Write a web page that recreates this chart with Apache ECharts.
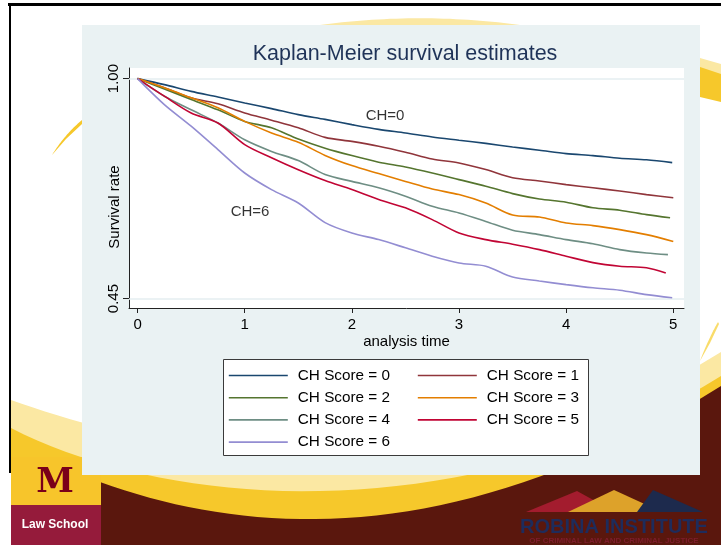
<!DOCTYPE html>
<html>
<head>
<meta charset="utf-8">
<title>Kaplan-Meier survival estimates</title>
<script src="https://cdn.jsdelivr.net/npm/echarts@6/dist/echarts.min.js"></script>
<style>
	html, body { margin: 0; padding: 0; background: #fff; }
	#chart { width: 721px; height: 545px; }
</style>
</head>
<body>
<div id="chart"></div>
<script type="text/javascript">
	var times = [0, 0.25, 0.5, 0.75, 1, 1.25, 1.5, 1.75, 2, 2.25, 2.5, 2.75, 3, 3.25, 3.5, 3.75, 4, 4.25, 4.5, 4.75, 5];
	// where each curve stops (a few stop just short of 5)
	var endTimes = [4.99, 5.0, 4.97, 5.0, 4.95, 4.93, 4.99];

	var ch0 = [1, 0.985, 0.968, 0.954, 0.939, 0.925, 0.910, 0.898, 0.885, 0.873, 0.864, 0.854, 0.846, 0.838, 0.829, 0.821, 0.8125, 0.8075, 0.801, 0.797, 0.790];
	var ch1 = [1, 0.977, 0.952, 0.937, 0.914, 0.896, 0.877, 0.853, 0.843, 0.831, 0.816, 0.799, 0.789, 0.7725, 0.752, 0.744, 0.735, 0.727, 0.719, 0.710, 0.702];
	var ch2 = [1, 0.974, 0.948, 0.922, 0.893, 0.877, 0.849, 0.826, 0.8075, 0.791, 0.779, 0.764, 0.7475, 0.731, 0.7125, 0.699, 0.691, 0.677, 0.671, 0.660, 0.652];
	var ch3 = [1, 0.977, 0.952, 0.927, 0.893, 0.864, 0.841, 0.808, 0.7825, 0.7625, 0.743, 0.724, 0.710, 0.689, 0.659, 0.654, 0.639, 0.6325, 0.6225, 0.610, 0.593];
	var ch4 = [1, 0.956, 0.922, 0.889, 0.847, 0.818, 0.795, 0.760, 0.743, 0.727, 0.706, 0.681, 0.664, 0.643, 0.621, 0.610, 0.5975, 0.587, 0.5725, 0.564, 0.560];
	var ch5 = [1, 0.956, 0.914, 0.889, 0.835, 0.802, 0.772, 0.745, 0.7225, 0.6975, 0.677, 0.6475, 0.614, 0.5975, 0.586, 0.5725, 0.556, 0.540, 0.531, 0.527, 0.514];
	var ch6 = [1, 0.935, 0.881, 0.8225, 0.764, 0.7225, 0.689, 0.640, 0.614, 0.5975, 0.577, 0.556, 0.539, 0.531, 0.504, 0.494, 0.485, 0.477, 0.471, 0.460, 0.452];

	var names = ['CH Score = 0', 'CH Score = 1', 'CH Score = 2', 'CH Score = 3', 'CH Score = 4', 'CH Score = 5', 'CH Score = 6'];
	var colors = ['#1a476f', '#90353b', '#55752f', '#e37e00', '#6e8e84', '#c10534', '#938dd2'];
	var xTicks = [0, 1, 2, 3, 4, 5];
	var yTicks = [0.45, 1.00];
	// text notes inside the plot: [time, survival, text]
	var notes = [[2.31, 0.908, 'CH=0'], [1.05, 0.668, 'CH=6']];

	var font = 'Liberation Sans, Arial, sans-serif';
	var curves = [ch0, ch1, ch2, ch3, ch4, ch5, ch6];

	var series = curves.map(function (vals, k) {
		return {
			name: names[k],
			type: 'line',
			symbol: 'none',
			color: colors[k],
			smooth: 0.3,
			lineStyle: { width: 1.6 },
			z: 3,
			data: vals.map(function (v, i) {
				return [i === vals.length - 1 ? endTimes[k] : times[i], v];
			})
		};
	});
	// light grid lines at the y ticks
	series[0].markLine = {
		silent: true,
		symbol: 'none',
		label: { show: false },
		lineStyle: { color: '#e4eef1', width: 1.5, type: 'solid' },
		z: 1,
		data: yTicks.map(function (v) { return { yAxis: v }; })
	};
	series.push({
		name: 'notes',
		type: 'scatter',
		symbolSize: 0,
		silent: true,
		data: notes,
		label: {
			show: true,
			position: 'inside',
			formatter: function (p) { return p.data[2]; },
			color: '#000',
			fontSize: 15,
			fontFamily: font
		}
	});

	// slide background shapes: cubic curve from a to d, then closed along the bottom
	function swoosh(a, b, c, d, tail) {
		var pts = [];
		for (var i = 0; i <= 40; i++) {
			var s = i / 40, u = 1 - s;
			pts.push([
				u * u * u * a[0] + 3 * u * u * s * b[0] + 3 * u * s * s * c[0] + s * s * s * d[0],
				u * u * u * a[1] + 3 * u * u * s * b[1] + 3 * u * s * s * c[1] + s * s * s * d[1]
			]);
		}
		return pts.concat(tail);
	}
	function poly(points, fill, z) {
		return { type: 'polygon', z: z, silent: true, shape: { points: points }, style: { fill: fill } };
	}

	var legendCommon = {
		orient: 'vertical',
		top: 368,
		padding: 0,
		itemWidth: 59,
		itemHeight: 14,
		itemGap: 7.2,
		z: 5,
		itemStyle: { opacity: 0 },
		lineStyle: { width: 1.6 },
		textStyle: { fontSize: 15.3, lineHeight: 14, color: '#000', fontFamily: font, padding: [0, 0, 0, 5] }
	};

	var chart = echarts.init(document.getElementById('chart'));
	var option = {
		animation: false,
		backgroundColor: '#fff',
		textStyle: { fontFamily: font },
		title: {
			text: 'Kaplan-Meier survival estimates',
			left: 400,
			textAlign: 'center',
			top: 38,
			textStyle: { color: '#1f3358', fontSize: 21.5, fontWeight: 'normal', fontFamily: font }
		},
		graphic: [
			// slide decoration
			poly(swoosh([11, 400], [150, 450], [450, 520], [721, 352], [[721, 545], [11, 545]]), '#fbe8a3', -10),
			poly(swoosh([11, 428], [180, 515], [480, 525], [721, 376], [[721, 545], [11, 545]]), '#f6c82b', -10),
			poly(swoosh([100, 482], [260, 540], [470, 545], [721, 386], [[721, 545], [100, 545]]), '#5a170d', -10),
			poly(swoosh([300, 28], [380, 15], [460, 15], [540, 28], []), '#fbe8a3', -10),
			poly([[700, 58], [721, 64], [721, 76], [700, 68]], '#fbe8a3', -10),
			poly([[700, 67], [721, 74], [721, 102], [700, 97]], '#f6c82b', -10),
			poly(swoosh([52, 155], [60, 142], [70, 130], [82, 120], [[82, 124], [66, 139]]), '#f6c82b', -10),
			poly(swoosh([700, 361], [705, 348], [711, 334], [718, 322], [[719, 324], [710, 343]]), '#f9dc6a', -10),
			{ type: 'rect', z: -9, silent: true, shape: { x: 8, y: 3, width: 713, height: 3 }, style: { fill: '#000' } },
			{ type: 'rect', z: -9, silent: true, shape: { x: 9, y: 3, width: 2, height: 470 }, style: { fill: '#000' } },
			// law school logo
			{ type: 'rect', z: -8, silent: true, shape: { x: 11, y: 457, width: 90, height: 48 }, style: { fill: '#f7c52b' } },
			{ type: 'text', z: -7, silent: true, style: { text: 'M', x: 55, y: 483, align: 'center', verticalAlign: 'middle', fill: '#7a0019', font: 'bold 34px DejaVu Serif, serif' } },
			{ type: 'rect', z: -8, silent: true, shape: { x: 11, y: 505, width: 90, height: 40 }, style: { fill: '#951b3b' } },
			{ type: 'text', z: -7, silent: true, style: { text: 'Law School', x: 55, y: 525, align: 'center', verticalAlign: 'middle', fill: '#fff', font: 'bold 12px Liberation Sans, Arial, sans-serif' } },
			// robina institute logo
			poly([[526, 512], [577, 491], [615, 512]], '#a31c2e', -8),
			poly([[568, 512], [614, 490], [662, 512]], '#dda22a', -8),
			poly([[637, 512], [653, 490], [703, 512]], '#1d2a4d', -8),
			{ type: 'text', z: -7, silent: true, style: { text: 'ROBINA INSTITUTE', x: 614, y: 527, align: 'center', verticalAlign: 'middle', fill: '#1e2c5c', font: 'bold 20px Liberation Sans Narrow, Liberation Sans, sans-serif' } },
			{ type: 'text', z: -7, silent: true, style: { text: 'OF CRIMINAL LAW AND CRIMINAL JUSTICE', x: 614, y: 541, align: 'center', verticalAlign: 'middle', fill: '#7d1d2c', font: 'bold 8px Liberation Sans, sans-serif' } },
			// chart panel and legend box
			{ type: 'rect', z: -6, silent: true, shape: { x: 82, y: 25, width: 618, height: 450 }, style: { fill: '#eaf2f3' } },
			{ type: 'rect', z: 1, silent: true, shape: { x: 223.5, y: 359.5, width: 365, height: 96 }, style: { fill: '#fff', stroke: '#3a3a3a', lineWidth: 1 } }
		],
		legend: [
			Object.assign({ data: [names[0], names[2], names[4], names[6]], left: 228 }, legendCommon),
			Object.assign({ data: [names[1], names[3], names[5]], left: 417 }, legendCommon)
		],
		grid: {
			left: 129,
			right: 37,
			top: 68,
			bottom: 237,
			show: true,
			backgroundColor: '#fff',
			borderWidth: 0
		},
		xAxis: {
			type: 'value',
			min: -0.08,
			max: 5.1,
			name: 'analysis time',
			nameLocation: 'middle',
			nameGap: 26,
			nameTextStyle: { fontSize: 15, color: '#000', verticalAlign: 'top' },
			axisLine: { show: true, onZero: false, lineStyle: { color: '#222', width: 1 } },
			axisTick: { show: true, length: 5, customValues: xTicks, lineStyle: { color: '#222' } },
			axisLabel: { fontSize: 15, color: '#000', margin: 9, customValues: xTicks },
			splitLine: { show: false }
		},
		yAxis: {
			type: 'value',
			min: 0.4265,
			max: 1.0265,
			name: 'Survival rate',
			nameLocation: 'middle',
			nameRotate: 90,
			nameGap: 7,
			nameMoveOverlap: false,
			nameTextStyle: { fontSize: 15, color: '#000', padding: [0, 38, 0, 0] },
			axisLine: { show: true, onZero: false, lineStyle: { color: '#222', width: 1 } },
			axisTick: { show: true, length: 6, customValues: yTicks, lineStyle: { color: '#222' } },
			axisLabel: {
				fontSize: 15,
				color: '#000',
				rotate: 90,
				margin: 8,
				customValues: yTicks,
				formatter: function (v) { return v.toFixed(2); }
			},
			splitLine: { show: false }
		},
		series: series
	};
	chart.setOption(option);
	window.onresize = function () {
		chart.resize();
	};
</script>
</body>
</html>
